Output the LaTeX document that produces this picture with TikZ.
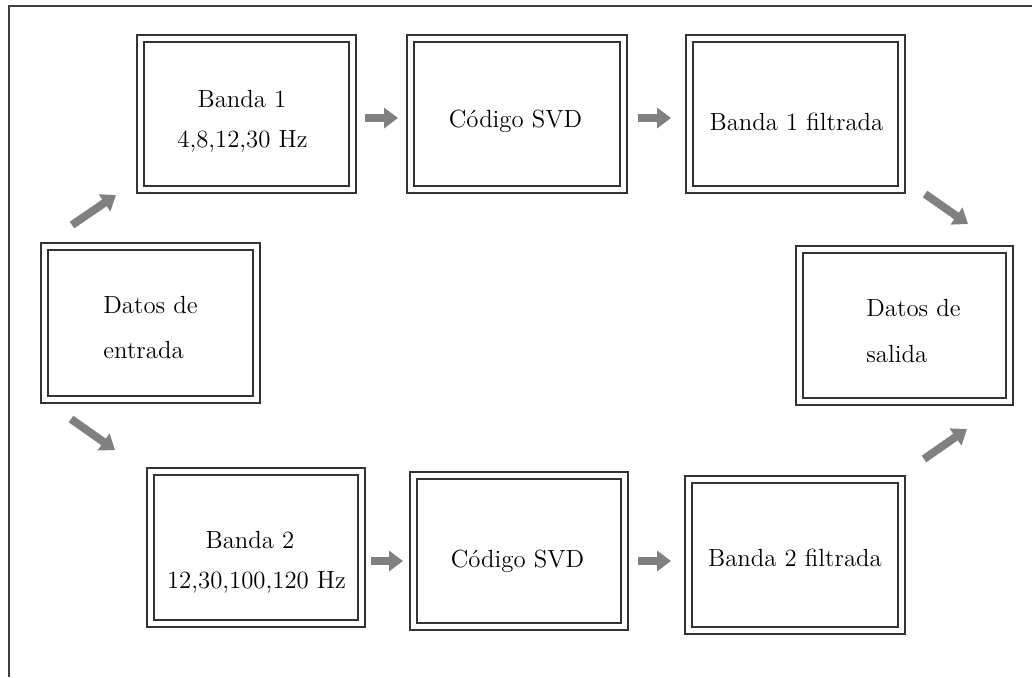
\documentclass[tikz,border=0pt]{standalone}
\usepackage{fontspec}
\usetikzlibrary{arrows.meta,calc}
\begin{document}
\begin{tikzpicture}[x=0.5pt,y=-0.5pt,
  box/.style={rectangle, draw=black!80, line width=1pt, double=white, double distance=2.5pt, inner sep=0pt},
  lbl/.style={inner sep=0pt, font=\fontsize{12.4pt}{15pt}\selectfont, text=black},
  arr/.style={draw=black!50, line width=4pt, -{Triangle[length=7pt,width=10pt]}},
  framel/.style={draw=black!75, line width=0.8pt}]
\useasboundingbox (0,0) rectangle (1032,677);
% frame
\coordinate (ftr) at (1032,6);
\coordinate (ftl) at (9,6);
\coordinate (fbl) at (9,677);
\draw[framel] (ftr) -- (ftl) -- (fbl);
% boxes
\node[box, minimum width=106pt, minimum height=75.5pt] (b1) at (246.5,114) {};
\node[box, minimum width=106.5pt, minimum height=75.5pt] (c1) at (517,114) {};
\node[box, minimum width=106pt, minimum height=75.5pt] (f1) at (795.5,114) {};
\node[box, minimum width=106pt, minimum height=76.5pt] (e) at (150.5,323) {};
\node[box, minimum width=105pt, minimum height=76pt] (s) at (904.5,325.5) {};
\node[box, minimum width=105.5pt, minimum height=76pt] (b2) at (256,547.5) {};
\node[box, minimum width=105.5pt, minimum height=75.5pt] (c2) at (519,551) {};
\node[box, minimum width=106.5pt, minimum height=75.5pt] (f2) at (795,555) {};
% texts
\node[lbl, anchor=base] (b1t1) at (242,107) {Banda 1};
\node[lbl, anchor=base] (b1t2) at (242.5,147) {4,8,12,30 Hz};
\node[lbl, anchor=base] (c1t) at (515.5,127) {Código SVD};
\node[lbl, anchor=base] (f1t) at (796.5,130) {Banda 1 filtrada};
\node[lbl, anchor=base west] (et1) at (103,313) {Datos de};
\node[lbl, anchor=base west] (et2) at (103,358) {entrada};
\node[lbl, anchor=base west] (st1) at (866,316) {Datos de};
\node[lbl, anchor=base west] (st2) at (866,362) {salida};
\node[lbl, anchor=base] (b2t1) at (250,548) {Banda 2};
\node[lbl, anchor=base] (b2t2) at (256.5,588) {12,30,100,120 Hz};
\node[lbl, anchor=base] (c2t) at (517.5,567) {Código SVD};
\node[lbl, anchor=base] (f2t) at (795,566) {Banda 2 filtrada};
% arrows
\draw[arr] ($(b1.east)+(11.5,4)$) -- ($(c1.west)+(-11.5,4)$);
\draw[arr] ($(c1.east)+(13.5,4)$) -- ($(f1.west)+(-17.5,4)$);
\draw[arr] ($(e.north west)+(28.5,-20.5)$) -- ($(b1.south west)+(-23.5,4.5)$);
\draw[arr] ($(e.south west)+(27.5,18.5)$) -- ($(b2.north west)+(-34.5,-20.5)$);
\draw[arr] ($(f1.south east)+(22.5,3.5)$) -- ($(s.north east)+(-42.5,-24.5)$);
\draw[arr] ($(f2.north east)+(21.5,-19.5)$) -- ($(s.south east)+(-43.5,26.5)$);
\draw[arr] ($(b2.east)+(8.5,13.5)$) -- ($(c2.west)+(-9.5,10)$);
\draw[arr] ($(c2.east)+(12.5,10)$) -- ($(f2.west)+(-16.5,6)$);
\end{tikzpicture}
\end{document}
